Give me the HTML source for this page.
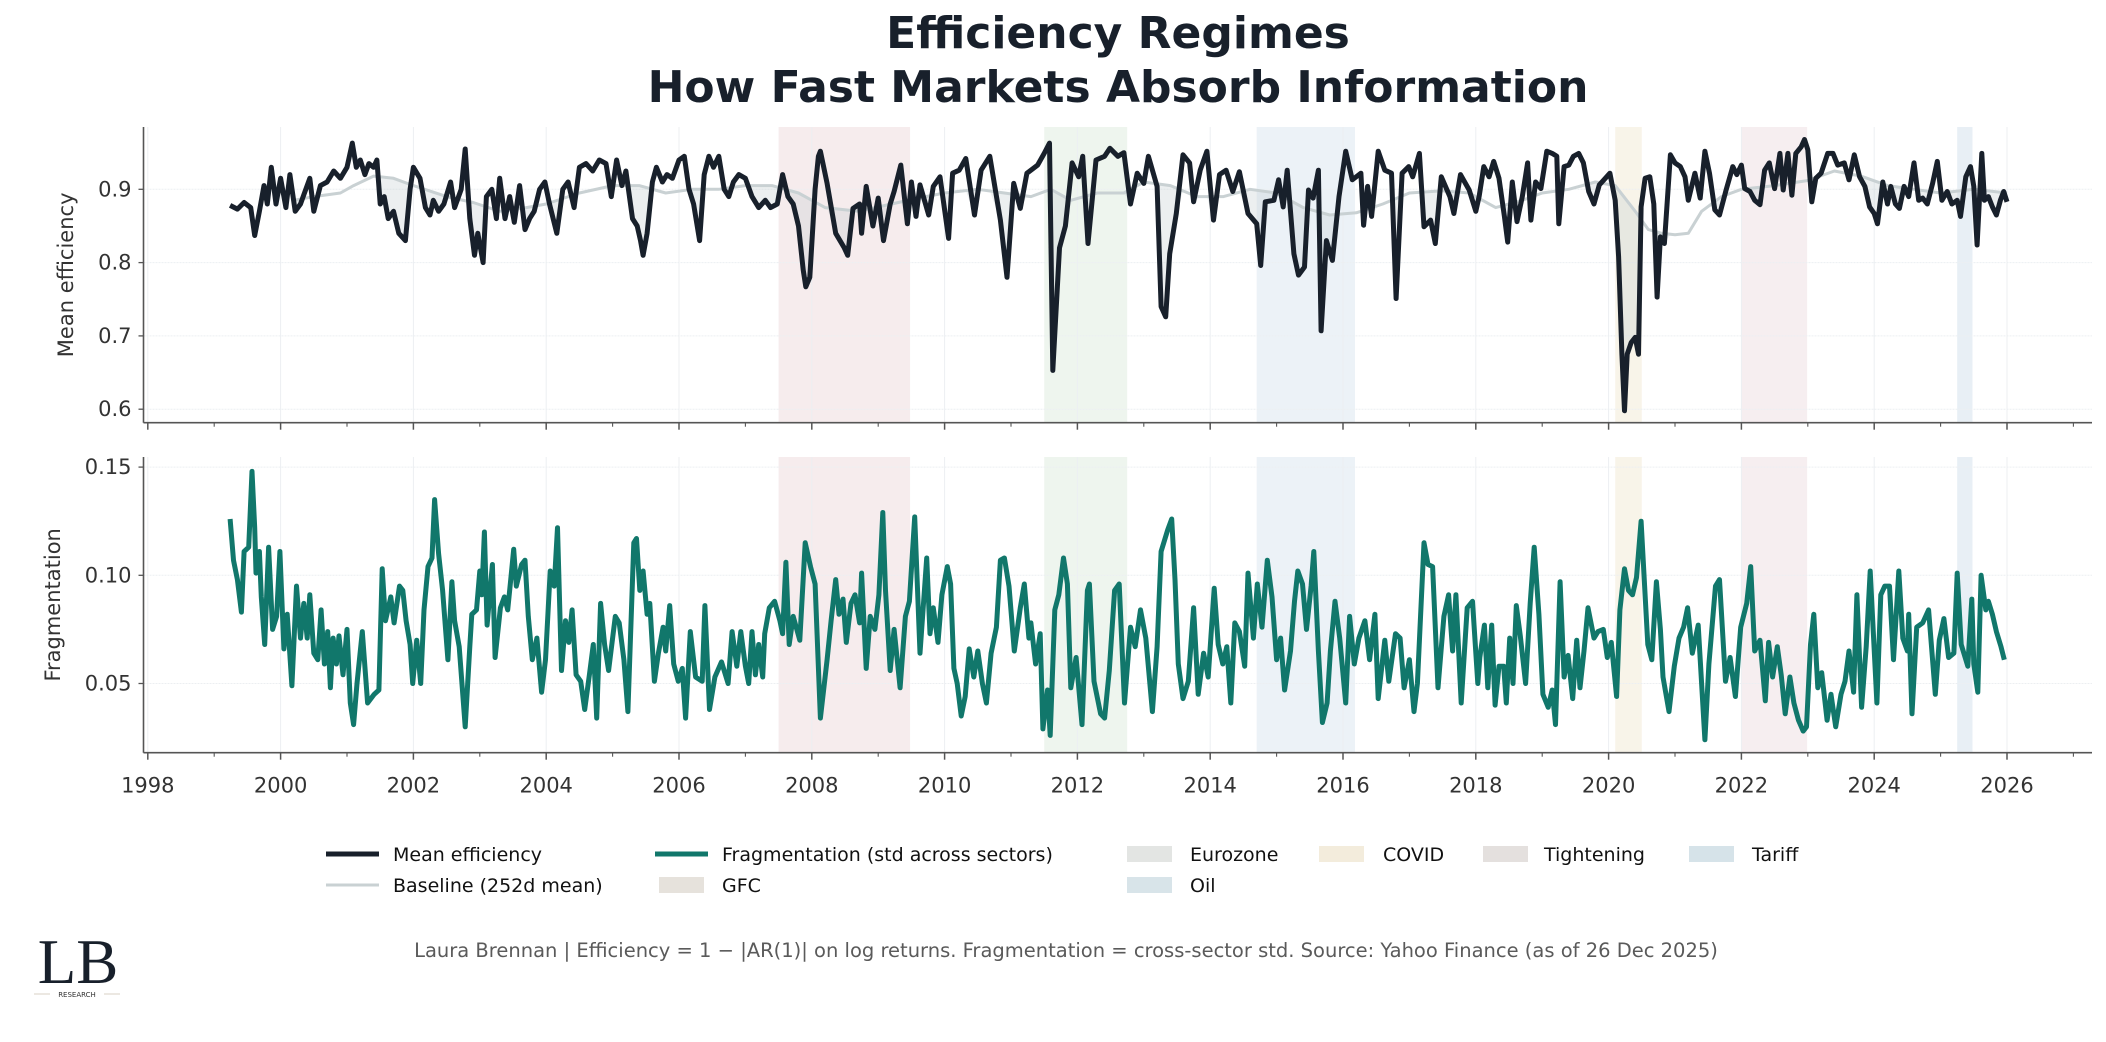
<!DOCTYPE html>
<html><head><meta charset="utf-8"><style>
html,body{margin:0;padding:0;background:#fff;}
svg{display:block;font-family:"DejaVu Sans","Liberation Sans",sans-serif;}
</style></head><body>
<svg id="chart" width="2106" height="1042" viewBox="0 0 2106 1042" xmlns="http://www.w3.org/2000/svg">
<rect width="2106" height="1042" fill="#fff"/>
<text x="1118" y="48" text-anchor="middle" font-size="44" font-weight="bold" fill="#18202b">Efficiency Regimes</text>
<text x="1118" y="102" text-anchor="middle" font-size="44" font-weight="bold" fill="#18202b">How Fast Markets Absorb Information</text>
<g id="gtop"></g>
<g id="gbot"></g>
<g font-size="19" fill="#111">
 <line x1="326" y1="854" x2="379" y2="854" stroke="#18202b" stroke-width="5"/>
 <text x="393" y="861">Mean efficiency</text>
 <line x1="326" y1="885" x2="379" y2="885" stroke="#c9d1d3" stroke-width="3"/>
 <text x="393" y="892">Baseline (252d mean)</text>
 <line x1="655" y1="854" x2="708" y2="854" stroke="#11776b" stroke-width="5"/>
 <text x="722" y="861">Fragmentation (std across sectors)</text>
 <rect x="659" y="877" width="45" height="16" fill="#e6e2dc"/>
 <text x="722" y="892">GFC</text>
 <rect x="1127" y="846" width="45" height="16" fill="#e3e5e3"/>
 <text x="1190" y="861">Eurozone</text>
 <rect x="1127" y="877" width="45" height="16" fill="#d8e4e9"/>
 <text x="1190" y="892">Oil</text>
 <rect x="1319" y="846" width="45" height="16" fill="#f3ecdc"/>
 <text x="1383" y="861">COVID</text>
 <rect x="1483" y="846" width="45" height="16" fill="#e4e0de"/>
 <text x="1544" y="861">Tightening</text>
 <rect x="1689" y="846" width="45" height="16" fill="#d6e3e9"/>
 <text x="1752" y="861">Tariff</text>
</g>
<text x="1066" y="957" text-anchor="middle" font-size="19.5" fill="#5a5a5a">Laura Brennan | Efficiency = 1 − |AR(1)| on log returns. Fragmentation = cross-sector std. Source: Yahoo Finance (as of 26 Dec 2025)</text>
<g>
 <text x="78" y="983" text-anchor="middle" font-family="Liberation Serif,serif" font-size="63" fill="#18202b">LB</text>
 <line x1="34" y1="994" x2="50" y2="994" stroke="#d8d2c4" stroke-width="1"/>
 <line x1="104" y1="994" x2="120" y2="994" stroke="#d8d2c4" stroke-width="1"/>
 <text x="77" y="997" text-anchor="middle" font-size="7" fill="#333">RESEARCH</text>
</g>
</svg>
<script>
const effDates=[1999.24,1999.35,1999.45,1999.55,1999.61,1999.68,1999.75,1999.8,1999.86,1999.93,2000.0,2000.08,2000.14,2000.22,2000.3,2000.38,2000.44,2000.5,2000.6,2000.7,2000.8,2000.9,2001.0,2001.08,2001.14,2001.2,2001.27,2001.33,2001.4,2001.45,2001.5,2001.56,2001.62,2001.7,2001.78,2001.88,2001.95,2002.0,2002.1,2002.18,2002.25,2002.3,2002.38,2002.46,2002.56,2002.62,2002.72,2002.78,2002.85,2002.92,2002.97,2003.05,2003.1,2003.18,2003.25,2003.3,2003.38,2003.45,2003.52,2003.6,2003.68,2003.75,2003.82,2003.9,2003.98,2004.05,2004.16,2004.25,2004.33,2004.42,2004.5,2004.6,2004.7,2004.8,2004.9,2004.98,2005.06,2005.14,2005.2,2005.3,2005.37,2005.42,2005.46,2005.52,2005.6,2005.66,2005.75,2005.82,2005.9,2006.0,2006.08,2006.15,2006.22,2006.31,2006.38,2006.45,2006.52,2006.6,2006.68,2006.75,2006.82,2006.9,2007.0,2007.1,2007.2,2007.3,2007.38,2007.48,2007.56,2007.64,2007.72,2007.8,2007.87,2007.91,2007.97,2008.05,2008.1,
2008.13,2008.23,2008.36,2008.49,2008.54,2008.62,2008.72,2008.75,2008.82,2008.92,2009.0,2009.08,2009.18,2009.24,2009.34,2009.44,2009.5,2009.57,2009.63,2009.76,2009.83,2009.93,2010.06,2010.12,2010.22,2010.32,2010.45,2010.55,2010.68,2010.84,2010.94,2011.04,2011.14,2011.24,2011.4,2011.5,2011.58,2011.63,2011.73,2011.82,2011.92,2012.02,2012.08,2012.16,2012.28,2012.41,2012.49,2012.61,2012.7,2012.8,2012.9,2013.0,2013.07,2013.2,2013.26,2013.33,2013.39,2013.49,2013.59,2013.69,2013.75,2013.85,2013.95,2014.05,2014.14,2014.24,2014.34,2014.44,2014.57,2014.7,2014.76,2014.83,2014.96,2015.03,2015.1,2015.16,2015.26,2015.33,2015.42,2015.48,2015.55,2015.63,2015.67,2015.75,2015.84,2015.94,2016.04,2016.14,2016.27,2016.31,2016.37,2016.43,2016.53,2016.63,2016.73,2016.8,2016.89,2016.99,2017.05,2017.15,2017.22,2017.32,2017.39,2017.48,2017.61,2017.67,2017.77,2017.9,2018.0,
2018.05,2018.12,2018.2,2018.27,2018.35,2018.43,2018.48,2018.55,2018.62,2018.7,2018.78,2018.83,2018.9,2018.98,2019.07,2019.15,2019.22,2019.25,2019.33,2019.4,2019.47,2019.55,2019.62,2019.7,2019.78,2019.86,2019.95,2020.02,2020.1,2020.15,2020.2,2020.24,2020.28,2020.34,2020.4,2020.45,2020.49,2020.55,2020.62,2020.68,2020.73,2020.78,2020.84,2020.93,2021.0,2021.08,2021.15,2021.2,2021.3,2021.38,2021.45,2021.52,2021.6,2021.67,2021.77,2021.87,2021.93,2022.0,2022.05,2022.13,2022.2,2022.28,2022.35,2022.42,2022.5,2022.58,2022.63,2022.7,2022.76,2022.82,2022.9,2022.95,2023.0,2023.06,2023.12,2023.2,2023.3,2023.38,2023.45,2023.55,2023.62,2023.7,2023.78,2023.86,2023.93,2024.0,2024.05,2024.13,2024.2,2024.25,2024.32,2024.38,2024.45,2024.52,2024.6,2024.67,2024.73,2024.8,2024.88,2024.95,2025.02,2025.1,2025.17,2025.25,2025.3,2025.38,2025.45,2025.5,2025.55,2025.62,2025.66,2025.72,2025.78,2025.84,2025.9,2025.95,2026.0];
const effValues=[.878,.873,.882,.875,.837,.87,.905,.88,.93,.88,.915,.875,.92,.87,.88,.9,.915,.87,.905,.91,.925,.915,.93,.963,.93,.94,.92,.935,.93,.94,.88,.89,.86,.87,.84,.83,.9,.93,.915,.875,.865,.885,.87,.88,.91,.875,.9,.955,.86,.81,.84,.8,.89,.9,.86,.915,.86,.89,.855,.905,.845,.86,.87,.9,.91,.88,.84,.9,.91,.875,.93,.935,.925,.94,.935,.89,.94,.905,.925,.86,.85,.83,.81,.84,.91,.93,.91,.92,.915,.94,.945,.9,.88,.83,.92,.945,.93,.945,.9,.89,.91,.92,.915,.89,.875,.885,.875,.88,.92,.89,.88,.85,.79,.767,.78,.9,.945,
.952,.908,.84,.82,.81,.874,.88,.84,.904,.85,.888,.83,.88,.897,.933,.853,.91,.863,.906,.865,.904,.917,.833,.922,.926,.942,.865,.926,.945,.858,.78,.908,.874,.922,.933,.949,.963,.653,.82,.85,.936,.917,.945,.826,.94,.945,.956,.945,.95,.88,.922,.908,.945,.904,.74,.726,.812,.867,.947,.936,.883,.926,.952,.858,.92,.926,.897,.924,.867,.853,.796,.883,.885,.913,.876,.926,.812,.783,.794,.899,.888,.926,.707,.83,.803,.89,.952,.913,.922,.851,.904,.863,.952,.926,.922,.751,.922,.931,.917,.949,.849,.858,.826,.917,.89,.867,.92,.899,.87,
.89,.931,.917,.938,.915,.863,.828,.91,.856,.89,.936,.858,.91,.901,.952,.949,.945,.853,.931,.933,.945,.949,.936,.897,.88,.906,.915,.922,.885,.808,.675,.598,.675,.691,.698,.675,.876,.915,.917,.88,.753,.835,.826,.947,.936,.931,.917,.885,.922,.888,.952,.922,.872,.865,.899,.931,.92,.933,.901,.897,.885,.879,.926,.936,.901,.949,.899,.949,.892,.949,.958,.968,.954,.883,.915,.922,.949,.949,.933,.936,.913,.947,.917,.904,.876,.867,.853,.91,.88,.904,.88,.874,.904,.89,.936,.885,.888,.88,.908,.938,.885,.897,.88,.885,.863,.917,.931,.904,.824,.949,.885,.89,.876,.865,.885,.897,.883];
const baseDates=[2000.2,2000.5,2000.9,2001.1,2001.4,2001.7,2002.0,2002.5,2002.9,2003.3,2003.7,2004.0,2004.5,2005.0,2005.4,2005.8,2006.2,2006.6,2007.0,2007.4,2007.8,2008.2,2008.7,2009.2,2009.6,2010.0,2010.5,2010.9,2011.3,2011.6,2011.9,2012.3,2012.7,2013.0,2013.4,2013.8,2014.2,2014.6,2015.0,2015.4,2015.8,2016.2,2016.6,2017.0,2017.5,2017.9,2018.3,2018.7,2019.0,2019.4,2019.8,2020.1,2020.4,2020.6,2020.8,2021.0,2021.2,2021.4,2021.7,2022.0,2022.5,2023.0,2023.4,2023.8,2024.2,2024.6,2025.0,2025.5,2026.0];
const baseValues=[.885,.89,.895,.905,.918,.915,.905,.89,.882,.87,.875,.88,.895,.905,.905,.895,.9,.9,.905,.905,.895,.875,.87,.88,.888,.895,.9,.895,.89,.9,.885,.895,.895,.91,.905,.89,.89,.9,.895,.875,.865,.868,.88,.895,.898,.895,.875,.885,.895,.9,.91,.905,.87,.845,.84,.838,.84,.87,.89,.9,.905,.912,.925,.918,.905,.9,.895,.9,.895];
const fragDates=[1999.24,1999.29,1999.35,1999.41,1999.45,1999.52,1999.57,1999.61,1999.63,1999.68,1999.71,1999.76,1999.82,1999.88,1999.94,1999.99,2000.05,2000.1,2000.17,2000.24,2000.3,2000.35,2000.4,2000.44,2000.5,2000.56,2000.61,2000.66,2000.71,2000.75,2000.79,2000.84,2000.88,2000.94,2001.0,2001.05,2001.1,2001.15,2001.23,2001.31,2001.41,2001.48,2001.53,2001.58,2001.66,2001.71,2001.79,2001.84,2001.89,2001.95,2001.99,2002.05,2002.11,2002.16,2002.22,2002.28,2002.32,2002.38,2002.44,2002.52,2002.58,2002.62,2002.69,2002.78,2002.85,2002.88,2002.95,2003.0,2003.03,2003.07,2003.11,2003.19,2003.23,2003.31,2003.37,2003.42,2003.46,2003.51,2003.55,2003.63,2003.68,2003.73,2003.79,2003.86,2003.93,2003.99,2004.06,2004.12,2004.17,2004.23,2004.29,2004.34,2004.39,2004.45,2004.52,2004.58,2004.65,2004.71,2004.76,2004.82,2004.88,2004.94,2005.04,2005.1,2005.17,2005.23,2005.32,2005.36,2005.41,2005.46,2005.52,2005.56,2005.63,2005.69,2005.76,2005.8,2005.86,2005.92,2005.99,2006.05,2006.1,2006.17,2006.25,2006.35,2006.39,2006.46,2006.54,2006.64,2006.74,2006.8,2006.87,2006.93,2007.0,2007.05,2007.1,2007.15,2007.2,2007.26,2007.29,2007.36,2007.44,2007.52,2007.56,2007.61,2007.66,2007.72,2007.82,2007.9,2007.98,2008.05,2008.13,
2008.23,2008.29,2008.36,2008.41,2008.47,2008.52,2008.59,2008.65,2008.72,2008.75,2008.82,2008.88,2008.95,2009.01,2009.07,2009.11,2009.18,2009.24,2009.33,2009.41,2009.47,2009.55,2009.63,2009.73,2009.78,2009.83,2009.9,2009.96,2010.04,2010.09,2010.14,2010.19,2010.25,2010.31,2010.37,2010.44,2010.5,2010.57,2010.63,2010.7,2010.78,2010.84,2010.9,2010.97,2011.05,2011.14,2011.2,2011.27,2011.3,2011.37,2011.44,2011.48,2011.55,2011.59,2011.66,2011.72,2011.79,2011.85,2011.9,2011.98,2012.07,2012.15,2012.18,2012.25,2012.35,2012.41,2012.48,2012.56,2012.63,2012.71,2012.8,2012.87,2012.95,2013.03,2013.13,2013.2,2013.26,2013.36,2013.42,2013.47,2013.52,2013.59,2013.67,2013.75,2013.82,2013.9,2013.97,2014.06,2014.12,2014.19,2014.25,2014.31,2014.37,2014.44,2014.52,2014.57,2014.65,2014.71,2014.78,2014.86,2014.93,2015.0,2015.06,2015.12,2015.21,2015.27,2015.32,2015.39,2015.45,2015.52,2015.56,2015.63,2015.69,2015.76,2015.81,2015.88,2015.95,2016.04,2016.1,2016.17,2016.24,2016.33,2016.4,2016.48,2016.53,2016.63,2016.69,2016.79,2016.86,2016.92,2017.0,2017.07,2017.12,2017.22,2017.28,2017.35,2017.43,2017.52,2017.59,2017.65,2017.7,2017.78,2017.87,2017.95,2018.03,
2018.06,2018.13,2018.18,2018.24,2018.29,2018.35,2018.42,2018.46,2018.51,2018.56,2018.61,2018.67,2018.75,2018.82,2018.88,2018.95,2019.01,2019.09,2019.15,2019.2,2019.27,2019.33,2019.39,2019.46,2019.52,2019.57,2019.63,2019.69,2019.78,2019.84,2019.92,2019.98,2020.04,2020.12,2020.17,2020.24,2020.3,2020.36,2020.42,2020.49,2020.54,2020.59,2020.65,2020.72,2020.78,2020.82,2020.91,2020.99,2021.06,2021.13,2021.19,2021.26,2021.35,2021.45,2021.51,2021.61,2021.67,2021.76,2021.83,2021.91,2021.99,2022.08,2022.14,2022.2,2022.28,2022.36,2022.41,2022.47,2022.54,2022.6,2022.66,2022.73,2022.79,2022.86,2022.93,2022.98,2023.04,2023.09,2023.15,2023.21,2023.29,2023.35,2023.42,2023.5,2023.56,2023.62,2023.69,2023.74,2023.81,2023.88,2023.94,2024.04,2024.1,2024.16,2024.23,2024.29,2024.37,2024.43,2024.5,2024.52,2024.57,2024.64,2024.73,2024.82,2024.92,2024.98,2025.05,2025.12,2025.2,2025.25,2025.31,2025.41,2025.47,2025.5,2025.56,2025.61,2025.68,2025.72,2025.78,2025.84,2025.91,2025.96];
const fragValues=[.126,.107,.098,.083,.111,.113,.148,.122,.101,.111,.09,.068,.113,.075,.081,.111,.066,.082,.049,.095,.071,.087,.071,.091,.064,.061,.084,.059,.074,.048,.071,.059,.072,.054,.075,.041,.031,.05,.074,.041,.045,.047,.103,.079,.09,.078,.095,.093,.079,.068,.05,.07,.05,.084,.104,.108,.135,.11,.093,.061,.097,.079,.067,.03,.067,.082,.084,.102,.091,.12,.077,.105,.062,.085,.09,.084,.096,.112,.095,.105,.107,.081,.061,.071,.046,.061,.102,.095,.122,.056,.079,.069,.084,.054,.051,.038,.054,.068,.034,.087,.068,.056,.081,.078,.061,.037,.115,.117,.093,.102,.082,.087,.051,.064,.076,.065,.086,.059,.051,.057,.034,.074,.053,.051,.086,.038,.053,.06,.05,.074,.058,.074,.058,.05,.074,.054,.068,.053,.073,.085,.088,.079,.073,.106,.068,.081,.07,.115,.104,.096,.034,
.061,.079,.098,.082,.089,.069,.087,.091,.078,.101,.057,.081,.075,.091,.129,.093,.056,.075,.048,.081,.088,.127,.064,.108,.073,.085,.069,.091,.104,.096,.057,.05,.035,.044,.066,.053,.065,.05,.041,.064,.076,.107,.108,.095,.065,.085,.096,.071,.078,.059,.073,.029,.047,.026,.084,.091,.108,.096,.048,.062,.031,.093,.096,.051,.036,.034,.056,.093,.096,.041,.076,.067,.084,.071,.037,.067,.111,.121,.126,.098,.059,.043,.051,.085,.045,.064,.053,.094,.068,.059,.067,.041,.078,.074,.058,.101,.071,.096,.076,.107,.09,.061,.071,.047,.065,.088,.102,.096,.075,.095,.111,.065,.032,.041,.065,.088,.071,.041,.081,.059,.071,.079,.061,.082,.043,.07,.051,.073,.071,.048,.061,.037,.05,.115,.105,.104,.048,.081,.091,.065,.091,.041,.085,.088,.05,
.062,.077,.048,.077,.04,.058,.058,.041,.071,.05,.086,.072,.05,.087,.113,.082,.045,.039,.047,.031,.097,.053,.063,.043,.07,.048,.065,.085,.071,.074,.075,.062,.069,.044,.084,.103,.093,.091,.099,.125,.096,.068,.061,.097,.075,.053,.037,.058,.071,.076,.085,.064,.077,.024,.059,.095,.098,.051,.062,.044,.076,.087,.104,.065,.07,.042,.069,.053,.067,.054,.036,.053,.041,.033,.028,.03,.068,.082,.048,.055,.033,.045,.03,.045,.051,.065,.046,.091,.039,.067,.102,.041,.091,.095,.095,.061,.102,.071,.065,.082,.036,.076,.078,.084,.045,.07,.08,.062,.064,.101,.068,.058,.089,.059,.046,.1,.084,.088,.082,.074,.067,.061];
const eventNames=['GFC','Eurozone','Oil','COVID','Tightening','Tariff'];
const eventStarts=[2007.5,2011.5,2014.7,2020.1,2022.0,2025.25];
const eventEnds=[2009.48,2012.75,2016.18,2020.5,2022.99,2025.48];
const eventColors=['#f6eced','#eef5ee','#ecf2f7','#f8f4e9','#f6eef0','#e8eff5'];
const yearTicks=[1998,2000,2002,2004,2006,2008,2010,2012,2014,2016,2018,2020,2022,2024,2026];
const effTicks=[0.6,0.7,0.8,0.9];
const fragTicks=[0.05,0.10,0.15];

const NS='http://www.w3.org/2000/svg';
const X0=143.5,X1=2092;
const xS=yr=>147.8+(yr-1998)*66.4;
const P1={top:127,bot:422.7,y:v=>189.3+(0.9-v)*733};
const P2={top:457,bot:752.7,y:v=>575.3+(0.10-v)*2164};
function mk(tag,attrs,parent){const e=document.createElementNS(NS,tag);for(const k in attrs)e.setAttribute(k,attrs[k]);parent.appendChild(e);return e;}
function pathD(ds,vs,yf){return ds.map((d,i)=>(i?'L':'M')+xS(d).toFixed(1)+' '+yf(vs[i]).toFixed(1)).join(' ');}
function interp(ds,vs,t){if(t<=ds[0])return vs[0];for(let i=1;i<ds.length;i++){if(t<=ds[i]){const f=(t-ds[i-1])/(ds[i]-ds[i-1]);return vs[i-1]+f*(vs[i]-vs[i-1]);}}return vs[vs.length-1];}

function panel(g,P,ticks,fmt,title,titleX,showLabels){
  eventNames.forEach((n,i)=>{
    const r=mk('rect',{x:xS(eventStarts[i]),y:P.top,width:xS(eventEnds[i])-xS(eventStarts[i]),height:P.bot-P.top,fill:eventColors[i]},g);
    
    
  });
  yearTicks.forEach(yr=>{const l=mk('line',{x1:xS(yr),x2:xS(yr),y1:P.top,y2:P.bot,stroke:'#eceff2','stroke-width':1},g);
    
    });
  ticks.forEach(v=>{const y=P.y(v);
    const l=mk('line',{x1:X0,x2:X1,y1:y,y2:y,stroke:'#eceff2','stroke-width':1,'stroke-dasharray':'2 1'},g);
    
    
    mk('line',{x1:X0-5,x2:X0,y1:y,y2:y,stroke:'#555','stroke-width':1.3},g);
    const t=mk('text',{x:X0-12,y:y+7,'text-anchor':'end','font-size':21,fill:'#333'},g);t.textContent=fmt(v);
    
    
  });
  for(let yr=1998;yr<=2027;yr++){const maj=yr%2===0;
    mk('line',{x1:xS(yr),x2:xS(yr),y1:P.bot,y2:P.bot+(maj?7:4),stroke:'#555','stroke-width':maj?1.5:1.1},g);}
  if(showLabels){yearTicks.forEach(yr=>{const t=mk('text',{x:xS(yr),y:P.bot+40,'text-anchor':'middle','font-size':21,fill:'#333'},g);t.textContent=yr;
    
    });}
  mk('line',{x1:X0,x2:X0,y1:P.top,y2:P.bot,stroke:'#555','stroke-width':1.6},g);
  mk('line',{x1:X0,x2:X1,y1:P.bot,y2:P.bot,stroke:'#555','stroke-width':1.6},g);
  const cy=(P.top+P.bot)/2;
  const tt=mk('text',{x:titleX,y:cy,'text-anchor':'middle','font-size':21,fill:'#333',transform:`rotate(-90 ${titleX} ${cy})`},g);tt.textContent=title;
  
  
}
const gTop=document.getElementById('gtop'),gBot=document.getElementById('gbot');
panel(gTop,P1,effTicks,v=>v.toFixed(1),'Mean efficiency',73,false);
panel(gBot,P2,fragTicks,v=>v.toFixed(2),'Fragmentation',60,true);

const b0=baseDates[0],b1=baseDates[baseDates.length-1];
const inner=effDates.map((d,i)=>[d,effValues[i]]).filter(p=>p[0]>=b0&&p[0]<=b1);
let fd=baseDates.map((d,i)=>(i?'L':'M')+xS(d).toFixed(1)+' '+P1.y(baseValues[i]).toFixed(1)).join(' ');
for(let i=inner.length-1;i>=0;i--)fd+=' L'+xS(inner[i][0]).toFixed(1)+' '+P1.y(Math.min(inner[i][1],interp(baseDates,baseValues,inner[i][0]))).toFixed(1);
const fillP=mk('path',{d:fd+' Z',fill:'#c9d0d3','fill-opacity':0.35,stroke:'none'},gTop);


const base=mk('path',{d:pathD(baseDates,baseValues,P1.y),fill:'none',stroke:'#c9d1d3','stroke-width':3,'stroke-linejoin':'round'},gTop);


const eff=mk('path',{d:pathD(effDates,effValues,P1.y),fill:'none',stroke:'#18202b','stroke-width':5,'stroke-linejoin':'round'},gTop);


const frag=mk('path',{d:pathD(fragDates,fragValues,P2.y),fill:'none',stroke:'#11776b','stroke-width':5,'stroke-linejoin':'round'},gBot);


</script>
</body></html>
